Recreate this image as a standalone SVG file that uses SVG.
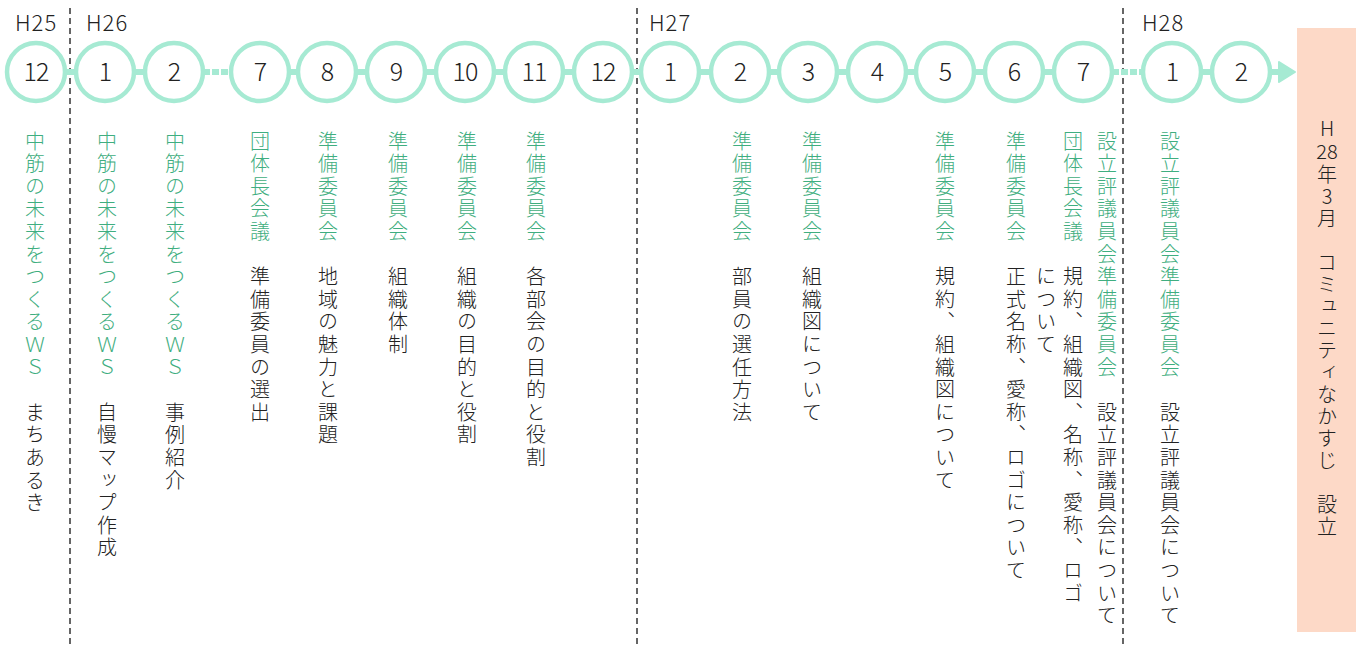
<svg xmlns="http://www.w3.org/2000/svg" width="1366" height="646" viewBox="0 0 1366 646">
<defs>
<style>
.bg{fill:#ffffff}
.yr{font-family:"Noto Sans CJK JP","Noto Sans",sans-serif;font-weight:300;font-size:22px;fill:#222;letter-spacing:1px}
.div{stroke:#333;stroke-width:1.5;stroke-dasharray:6 4;fill:none}
.tl{stroke:#a6ead3;stroke-width:6;fill:none}
.tld{stroke:#a6ead3;stroke-width:6;fill:none;stroke-dasharray:7 2}
.c circle{fill:#fff;stroke:#a6ead3;stroke-width:4.5}
.c text{font-family:"Noto Sans CJK JP","Noto Sans",sans-serif;font-weight:300;font-size:25px;fill:#222;text-anchor:middle;letter-spacing:-1px}
.v{writing-mode:vertical-rl;text-orientation:upright;font-family:"Noto Sans CJK JP","Noto Sans CJK SC",sans-serif;font-size:20px;font-weight:300;letter-spacing:2.6px;fill:#222}
.g{fill:#3fae80}
.goal rect{fill:#fdd9c7}
.h{font-family:"Noto Sans CJK JP","Noto Sans",sans-serif;font-weight:300;font-size:20px;fill:#222;text-anchor:middle}
</style>
</defs>
<rect class="bg" x="0" y="0" width="1366" height="646"/>

<g id="year-dividers">
<line class="div" x1="70" y1="8" x2="70" y2="646"/>
<line class="div" x1="637" y1="8" x2="637" y2="646"/>
<line class="div" x1="1123" y1="8" x2="1123" y2="646"/>
</g>
<g id="year-labels">
<text class="yr" x="15" y="31">H25</text>
<text class="yr" x="86" y="31">H26</text>
<text class="yr" x="649" y="31">H27</text>
<text class="yr" x="1142" y="31">H28</text>
</g>

<g id="connectors">
<line class="tl" x1="36" y1="72" x2="174" y2="72"/>
<line class="tld" x1="203" y1="72" x2="232" y2="72"/>
<line class="tl" x1="260" y1="72" x2="1083" y2="72"/>
<line class="tld" x1="1112" y1="72" x2="1144" y2="72"/>
<line class="tl" x1="1172" y1="72" x2="1284" y2="72"/>
<path d="M1279,62 L1295,72 L1279,82 Z" fill="#a6ead3" stroke="#a6ead3" stroke-width="2" stroke-linejoin="round"/>
</g>

<g id="m-h25-12" class="c"><circle cx="36" cy="72" r="29"/><text x="36" y="81">12</text></g>
<g id="m-h26-1" class="c"><circle cx="105" cy="72" r="29"/><text x="105" y="81">1</text></g>
<g id="m-h26-2" class="c"><circle cx="174" cy="72" r="29"/><text x="174" y="81">2</text></g>
<g id="m-h26-7" class="c"><circle cx="260" cy="72" r="29"/><text x="260" y="81">7</text></g>
<g id="m-h26-8" class="c"><circle cx="327" cy="72" r="29"/><text x="327" y="81">8</text></g>
<g id="m-h26-9" class="c"><circle cx="396" cy="72" r="29"/><text x="396" y="81">9</text></g>
<g id="m-h26-10" class="c"><circle cx="465" cy="72" r="29"/><text x="465" y="81">10</text></g>
<g id="m-h26-11" class="c"><circle cx="534" cy="72" r="29"/><text x="534" y="81">11</text></g>
<g id="m-h26-12" class="c"><circle cx="603" cy="72" r="29"/><text x="603" y="81">12</text></g>
<g id="m-h27-1" class="c"><circle cx="670" cy="72" r="29"/><text x="670" y="81">1</text></g>
<g id="m-h27-2" class="c"><circle cx="740" cy="72" r="29"/><text x="740" y="81">2</text></g>
<g id="m-h27-3" class="c"><circle cx="808" cy="72" r="29"/><text x="808" y="81">3</text></g>
<g id="m-h27-4" class="c"><circle cx="877" cy="72" r="29"/><text x="877" y="81">4</text></g>
<g id="m-h27-5" class="c"><circle cx="945" cy="72" r="29"/><text x="945" y="81">5</text></g>
<g id="m-h27-6" class="c"><circle cx="1014" cy="72" r="29"/><text x="1014" y="81">6</text></g>
<g id="m-h27-7" class="c"><circle cx="1083" cy="72" r="29"/><text x="1083" y="81">7</text></g>
<g id="m-h28-1" class="c"><circle cx="1172" cy="72" r="29"/><text x="1172" y="81">1</text></g>
<g id="m-h28-2" class="c"><circle cx="1241" cy="72" r="29"/><text x="1241" y="81">2</text></g>

<g id="ev-h25-12"><text class="v" x="35" y="131"><tspan class="g">中筋の未来をつくるＷＳ</tspan>　まちあるき</text></g>
<g id="ev-h26-1"><text class="v" x="107" y="131"><tspan class="g">中筋の未来をつくるＷＳ</tspan>　自慢マップ作成</text></g>
<g id="ev-h26-2"><text class="v" x="175" y="131"><tspan class="g">中筋の未来をつくるＷＳ</tspan>　事例紹介</text></g>
<g id="ev-h26-7"><text class="v" x="260" y="131"><tspan class="g">団体長会議</tspan>　準備委員の選出</text></g>
<g id="ev-h26-8"><text class="v" x="328" y="131"><tspan class="g">準備委員会</tspan>　地域の魅力と課題</text></g>
<g id="ev-h26-9"><text class="v" x="398" y="131"><tspan class="g">準備委員会</tspan>　組織体制</text></g>
<g id="ev-h26-10"><text class="v" x="467" y="131"><tspan class="g">準備委員会</tspan>　組織の目的と役割</text></g>
<g id="ev-h26-11"><text class="v" x="536" y="131"><tspan class="g">準備委員会</tspan>　各部会の目的と役割</text></g>
<g id="ev-h27-2"><text class="v" x="742" y="131"><tspan class="g">準備委員会</tspan>　部員の選任方法</text></g>
<g id="ev-h27-3"><text class="v" x="812" y="131"><tspan class="g">準備委員会</tspan>　組織図について</text></g>
<g id="ev-h27-5"><text class="v" x="945" y="131"><tspan class="g">準備委員会</tspan>　規約、組織図について</text></g>
<g id="ev-h27-6"><text class="v" x="1016" y="131"><tspan class="g">準備委員会</tspan>　正式名称、愛称、ロゴについて</text></g>
<g id="ev-h27-7a"><text class="v" x="1073" y="131"><tspan class="g">団体長会議</tspan>　規約、組織図、名称、愛称、ロゴ</text><text class="v" x="1046" y="266.6">について</text></g>
<g id="ev-h27-7b"><text class="v" x="1107" y="131"><tspan class="g">設立評議員会準備委員会</tspan>　設立評議員会について</text></g>
<g id="ev-h28-1"><text class="v" x="1170" y="131"><tspan class="g">設立評議員会準備委員会</tspan>　設立評議員会について</text></g>

<g id="goal" class="goal">
<rect x="1297" y="28" width="59" height="604"/>
<text class="v" x="1327" y="118" style="letter-spacing:0">H</text>
<text class="h" x="1327" y="159">28</text>
<text class="v" x="1327" y="164" style="letter-spacing:2px">年3月　コミュニティなかすじ　設立</text>
</g>
</svg>
